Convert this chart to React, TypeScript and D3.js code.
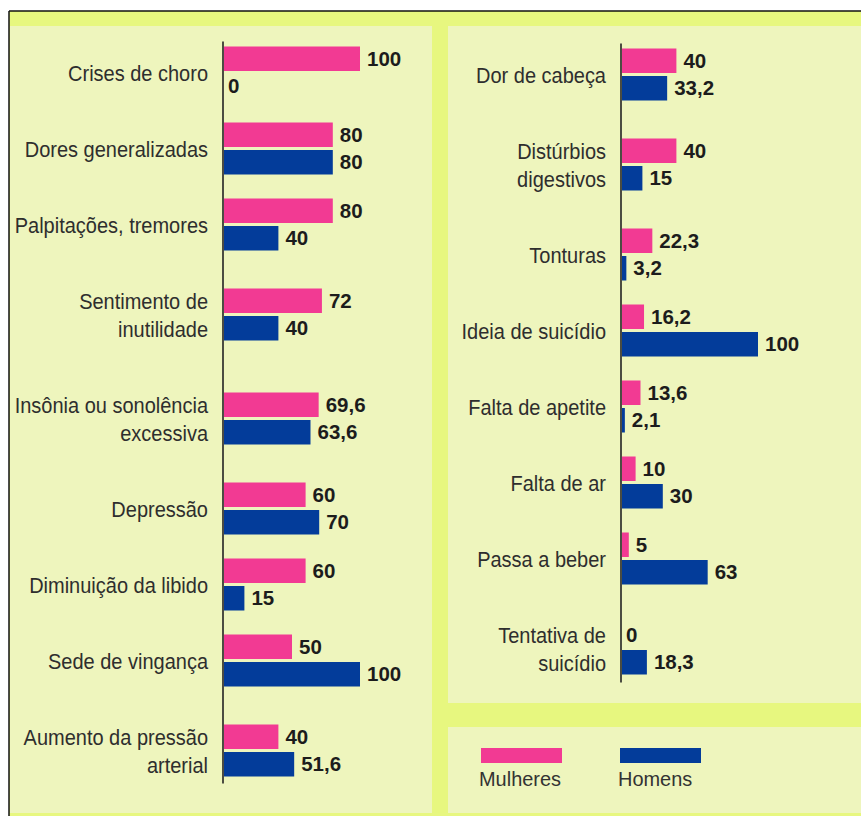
import React from "react";
import * as d3 from "d3";

const leftCategories = [
  "Crises de choro",
  "Dores generalizadas",
  "Palpitações, tremores",
  "Sentimento de\ninutilidade",
  "Insônia ou sonolência\nexcessiva",
  "Depressão",
  "Diminuição da libido",
  "Sede de vingança",
  "Aumento da pressão\narterial",
];
const leftWomen = [100, 80, 80, 72, 69.6, 60, 60, 50, 40];
const leftMen = [0, 80, 40, 40, 63.6, 70, 15, 100, 51.6];

const rightCategories = [
  "Dor de cabeça",
  "Distúrbios\ndigestivos",
  "Tonturas",
  "Ideia de suicídio",
  "Falta de apetite",
  "Falta de ar",
  "Passa a beber",
  "Tentativa de\nsuicídio",
];
const rightWomen = [40, 40, 22.3, 16.2, 13.6, 10, 5, 0];
const rightMen = [33.2, 15, 3.2, 100, 2.1, 30, 63, 18.3];

const seriesNames = ["Mulheres", "Homens"];

const PINK = "#f23a93";
const BLUE = "#033c9a";
const LIGHT = "#eef5bd";
const YELLOW = "#e7f77f";
const FONT = "'Liberation Sans', Arial, sans-serif";

const fmt = (v: number) => String(v).replace(".", ",");

type PanelProps = {
  categories: string[];
  women: number[];
  men: number[];
  axisX: number;
  top: number;
  axisBottomPad: number;
};

function Panel({ categories, women, men, axisX, top, axisBottomPad }: PanelProps) {
  const DOUBLE = 104 / 76;
  const weights = categories.map((c) => (c.includes("\n") ? DOUBLE : 1));
  const total = d3.sum(weights);
  const starts = d3.cumsum([0, ...weights]);
  const y = d3.scaleLinear().domain([0, total]).range([top, top + total * 76]);
  const x = d3.scaleLinear().domain([0, 100]).range([axisX + 1, axisX + 137]);
  const barH = 24.5;
  const gap = 3;
  const centers = categories.map((_, i) => y(starts[i] + weights[i] / 2));
  const axisTop = centers[0] - 31;
  const axisBottom = centers[centers.length - 1] + axisBottomPad;

  return (
    <g>
      {categories.map((c, i) => {
        const cy = centers[i];
        const lines = c.split("\n");
        const pinkY = cy - gap / 2 - barH;
        const blueY = cy + gap / 2;
        return (
          <g key={c}>
            <g transform={`translate(${axisX - 15},${cy}) scale(0.93,1)`}>
              <text textAnchor="end" fontFamily={FONT} fontSize={21.5} fill="#2e2e2e">
                {lines.map((l, j) => (
                  <tspan
                    key={j}
                    x={0}
                    dy={j === 0 ? (lines.length === 1 ? 8.5 : -6) : 28.5}
                  >
                    {l}
                  </tspan>
                ))}
              </text>
            </g>
            <rect x={x(0)} y={pinkY} width={x(women[i]) - x(0)} height={barH} fill={PINK} />
            <rect x={x(0)} y={blueY} width={x(men[i]) - x(0)} height={barH} fill={BLUE} />
            <text
              x={x(women[i]) + (women[i] === 0 ? 4 : 7)}
              y={pinkY + barH / 2 + 7}
              fontFamily={FONT}
              fontWeight="bold"
              fontSize={20.5}
              fill="#1c1c1c"
            >
              {fmt(women[i])}
            </text>
            <text
              x={x(men[i]) + (men[i] === 0 ? 4 : 7)}
              y={blueY + barH / 2 + 7}
              fontFamily={FONT}
              fontWeight="bold"
              fontSize={20.5}
              fill="#1c1c1c"
            >
              {fmt(men[i])}
            </text>
          </g>
        );
      })}
      <line x1={axisX} x2={axisX} y1={axisTop} y2={axisBottom} stroke="#222" strokeWidth={1.6} />
    </g>
  );
}

export default function App() {
  const W = 861;
  const H = 816;
  const legendColors = [PINK, BLUE];
  const legendX = d3.scalePoint().domain(seriesNames).range([481, 620]);
  return (
    <div style={{ position: "absolute", left: 0, top: 0 }}>
      <svg width={W} height={H} style={{ display: "block" }}>
        <rect x={0} y={0} width={W} height={H} fill="#ffffff" />
        <rect x={9} y={11} width={W - 9} height={H - 11} fill={YELLOW} />
        <rect x={10} y={26} width={422} height={787} fill={LIGHT} />
        <rect x={448} y={26} width={W - 448} height={677} fill={LIGHT} />
        <rect x={448} y={727} width={W - 448} height={86} fill={LIGHT} />
        <line x1={9} x2={W} y1={11} y2={11} stroke="#111" strokeWidth={1.5} />
        <line x1={9} x2={9} y1={11} y2={H} stroke="#111" strokeWidth={1.5} />
        <Panel
          categories={leftCategories}
          women={leftWomen}
          men={leftMen}
          axisX={223}
          top={34.5}
          axisBottomPad={33}
        />
        <Panel
          categories={rightCategories}
          women={rightWomen}
          men={rightMen}
          axisX={621}
          top={36.5}
          axisBottomPad={34}
        />
        {seriesNames.map((s, i) => (
          <g key={s}>
            <rect x={legendX(s)!} y={748} width={81} height={15} fill={legendColors[i]} />
            <g transform={`translate(${legendX(s)! - 2},786) scale(0.95,1)`}>
              <text x={0} y={0} fontFamily={FONT} fontSize={21} fill="#333">
                {s}
              </text>
            </g>
          </g>
        ))}
      </svg>
    </div>
  );
}
